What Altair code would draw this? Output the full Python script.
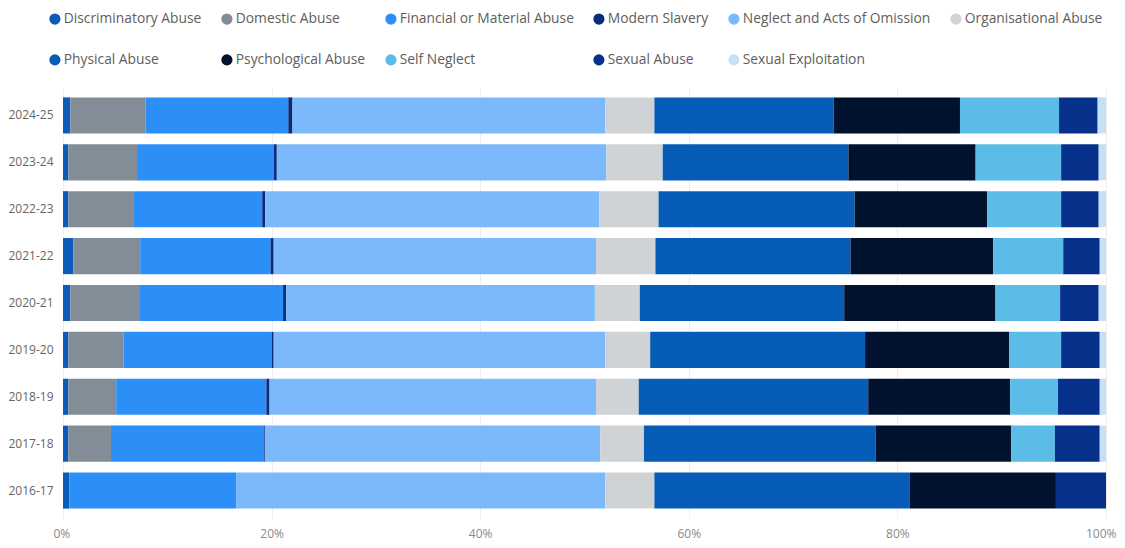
import altair as alt
import pandas as pd

years = ["2024-25", "2023-24", "2022-23", "2021-22", "2020-21",
         "2019-20", "2018-19", "2017-18", "2016-17"]
categories = ["Discriminatory Abuse", "Domestic Abuse", "Financial or Material Abuse",
              "Modern Slavery", "Neglect and Acts of Omission", "Organisational Abuse",
              "Physical Abuse", "Psychological Abuse", "Self Neglect", "Sexual Abuse",
              "Sexual Exploitation"]
colors = ["#0B5CB8", "#838D98", "#2C8FF7", "#0A2C7C", "#7BB9FA", "#CFD3D6",
          "#075CB8", "#01122E", "#5BBDE7", "#06308A", "#C6E0FA"]

# percentage share per year, one list per category (order follows `years`)
discriminatory = [0.7, 0.5, 0.5, 1.0, 0.7, 0.5, 0.5, 0.5, 0.6]
domestic       = [7.2, 6.6, 6.3, 6.4, 6.6, 5.3, 4.6, 4.1, 0.0]
financial      = [13.7, 13.1, 12.3, 12.5, 13.8, 14.2, 14.4, 14.7, 16.0]
modern_slavery = [0.4, 0.3, 0.3, 0.3, 0.3, 0.2, 0.3, 0.1, 0.0]
neglect        = [30.0, 31.6, 32.0, 30.9, 29.6, 31.8, 31.3, 32.1, 35.4]
organisational = [4.7, 5.4, 5.7, 5.7, 4.3, 4.3, 4.1, 4.2, 4.7]
physical       = [17.2, 17.8, 18.8, 18.7, 19.6, 20.6, 22.0, 22.2, 24.5]
psychological  = [12.1, 12.2, 12.7, 13.7, 14.5, 13.8, 13.6, 13.0, 14.0]
self_neglect   = [9.5, 8.2, 7.1, 6.7, 6.2, 5.0, 4.6, 4.2, 0.0]
sexual_abuse   = [3.7, 3.6, 3.6, 3.5, 3.7, 3.7, 4.0, 4.3, 4.8]
sexual_exploit = [0.8, 0.7, 0.7, 0.6, 0.7, 0.6, 0.6, 0.6, 0.0]

series = [discriminatory, domestic, financial, modern_slavery, neglect, organisational,
          physical, psychological, self_neglect, sexual_abuse, sexual_exploit]

rows = []
for ci, (cat, vals) in enumerate(zip(categories, series)):
    for y, v in zip(years, vals):
        rows.append({"Year": y, "Category": cat, "Value": v, "Order": ci})
df = pd.DataFrame(rows)

FONT = "Segoe UI, Open Sans, sans-serif"

chart = alt.Chart(df).mark_bar().encode(
    y=alt.Y("Year:N", sort=years, title=None,
            scale=alt.Scale(paddingInner=0.23, paddingOuter=0.2),
            axis=alt.Axis(labelFontSize=12, labelColor="#666666", labelFont=FONT,
                          ticks=False, domain=False, labelPadding=10, grid=False)),
    x=alt.X("Value:Q", stack="normalize", title=None,
            scale=alt.Scale(domain=[0, 1]),
            axis=alt.Axis(format=".0%", values=[0, 0.2, 0.4, 0.6, 0.8, 1.0],
                          labelFontSize=12, labelColor="#8A8A8A", labelFont=FONT,
                          ticks=False, domain=False, labelPadding=10,
                          labelFlush=True, labelFlushOffset=10,
                          grid=True, gridColor="#EEEEEE")),
    color=alt.Color("Category:N", sort=categories,
                    scale=alt.Scale(domain=categories, range=colors),
                    legend=alt.Legend(title=None, orient="none", legendX=-15, legendY=-76,
                                      direction="horizontal",
                                      columns=6, symbolType="circle", symbolSize=125,
                                      symbolStrokeWidth=0, labelFontSize=13.8,
                                      labelColor="#605E5C", labelFont=FONT,
                                      rowPadding=26, columnPadding=18, padding=0,
                                      labelOffset=2, labelLimit=300)),
    order=alt.Order("Order:Q", sort="ascending"),
).properties(
    width=1043, height=430,
    autosize=alt.AutoSizeParams(type="none"),
    padding={"left": 55, "top": 80, "right": 11, "bottom": 22},
).configure_view(stroke=None)

chart.save("out.html", embed_options={"renderer": "svg", "actions": False})
